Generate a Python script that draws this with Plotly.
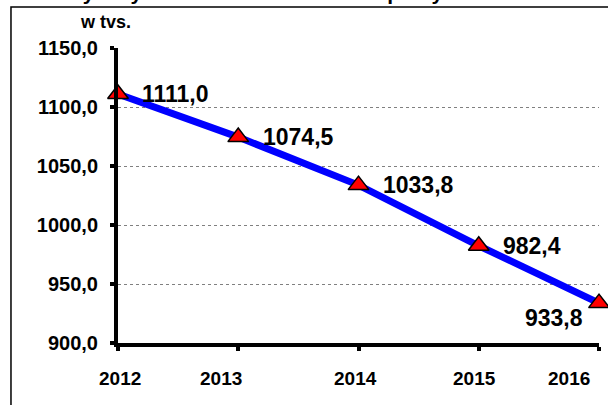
import plotly.graph_objects as go

years = [2012, 2013, 2014, 2015, 2016]
values = [1111.0, 1074.5, 1033.8, 982.4, 933.8]
value_labels = ["1111,0", "1074,5", "1033,8", "982,4", "933,8"]
year_labels = ["2012", "2013", "2014", "2015", "2016"]
y_ticks = [900, 950, 1000, 1050, 1100, 1150]
y_tick_labels = ["900,0", "950,0", "1000,0", "1050,0", "1100,0", "1150,0"]
unit_label = "w tvs."
title_text = "Osoby aktywne zawodowo w wieku pracy"

FONT = "Arial, Liberation Sans, sans-serif"

# style offsets (pixels) for labels
label_xshift = [22, 23, 22, 22, -14]
label_yshift = [0, 0, 0, 0, -15]
label_anchor = ["left", "left", "left", "left", "right"]
year_xshift = [2, -17, -3, -4, -30]

fig = go.Figure()
fig.add_trace(go.Scatter(
    x=years, y=values, mode="lines+markers",
    line=dict(color="#0000FF", width=7),
    marker=dict(symbol="triangle-up", size=18, color="#FF0000",
                line=dict(color="black", width=1.5)),
    cliponaxis=False, hoverinfo="skip", showlegend=False,
))

annotations = []
for x, y, t, xs, ys, a in zip(years, values, value_labels, label_xshift, label_yshift, label_anchor):
    annotations.append(dict(
        x=x, y=y, xref="x", yref="y", text=t, showarrow=False,
        xanchor=a, yanchor="middle", xshift=xs, yshift=ys,
        font=dict(family=FONT, size=23, color="black", weight="bold"),
    ))
for x, t, xs in zip(years, year_labels, year_xshift):
    annotations.append(dict(
        x=x, y=-0.119, xref="x", yref="paper", text=t, showarrow=False,
        xanchor="center", yanchor="middle", xshift=xs,
        font=dict(family=FONT, size=19, color="black", weight="bold"),
    ))
annotations.append(dict(
    x=-0.083, y=1.088, xref="paper", yref="paper", text=unit_label, showarrow=False,
    xanchor="left", yanchor="middle",
    font=dict(family=FONT, size=18, color="black", weight="bold"),
))
annotations.append(dict(
    x=-0.187, y=1.1458, xref="paper", yref="paper", text=title_text, showarrow=False,
    xanchor="left", yanchor="bottom", borderpad=0,
    font=dict(family=FONT, size=21, color="black", weight="bold"),
))

fig.update_layout(
    width=608, height=405,
    margin=dict(l=118, r=9, t=48, b=62),
    paper_bgcolor="white", plot_bgcolor="white",
    annotations=annotations,
    shapes=[dict(type="rect", xref="paper", yref="paper",
                 x0=-0.2225, x1=1.2, y0=-0.4, y1=1.139,
                 line=dict(color="black", width=1.5), layer="below")],
    xaxis=dict(
        range=[2012, 2016], tickvals=years, showticklabels=False,
        showgrid=False, zeroline=False,
        showline=True, linecolor="black", linewidth=4,
        ticks="outside", ticklen=4, tickwidth=4, tickcolor="black",
    ),
    yaxis=dict(
        range=[900, 1150], tickvals=y_ticks, ticktext=y_tick_labels,
        showgrid=True, gridcolor="#808080", gridwidth=1, griddash="dot",
        zeroline=False,
        showline=True, linecolor="black", linewidth=4,
        ticks="outside", ticklen=4, tickwidth=4, tickcolor="black",
        ticklabelstandoff=8,
        tickfont=dict(family=FONT, size=20, color="black", weight="bold"),
    ),
)

fig.write_html(
    "out.html",
    config={"displayModeBar": False},
    post_script="document.body.style.margin='0';document.body.style.padding='0';",
)
